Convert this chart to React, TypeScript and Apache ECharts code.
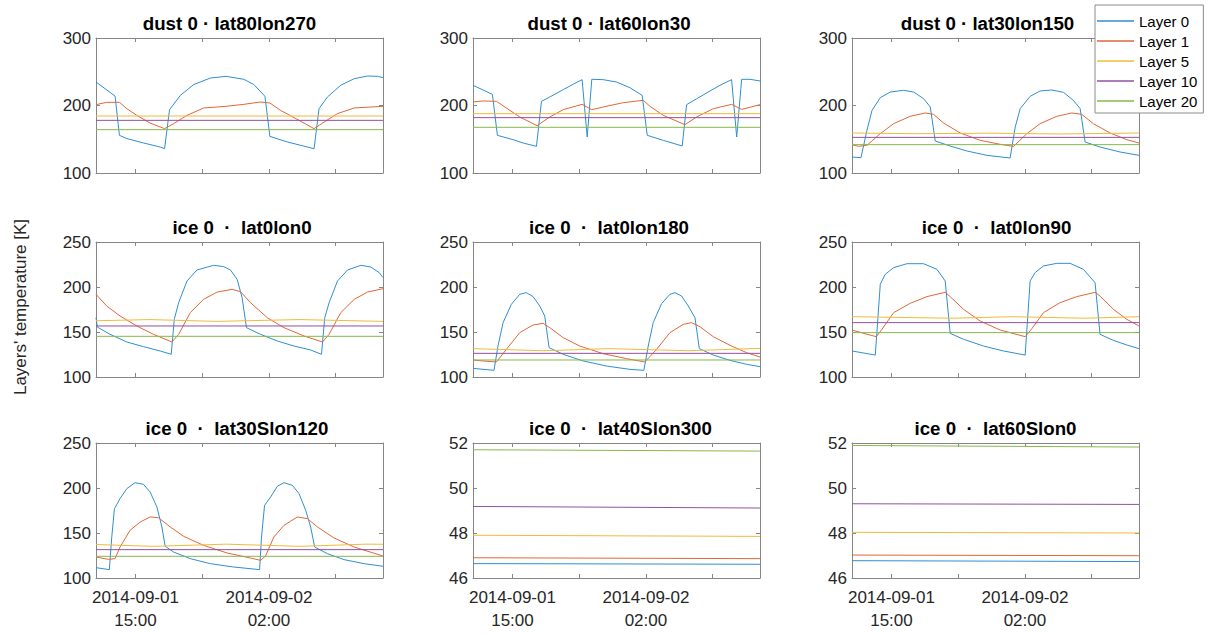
import React, { useEffect, useRef } from "react";
import * as echarts from "echarts";

type P = [number, number][];

const LAYERS = ["Layer 0", "Layer 1", "Layer 5", "Layer 10", "Layer 20"];
const COLORS = ["#2f8fd0", "#e0673a", "#efbb3a", "#9250a2", "#86b84a"];
const X_MIN = 11.75;
const X_MAX = 35.4;
const X_TICKS = [15, 20.5, 26, 31.5];
const X_LABEL_TICKS = [15, 26];
const Y_TITLE = "Layers' temperature [K]";

const TITLES = [
  "dust 0 · lat80lon270",
  "dust 0 · lat60lon30",
  "dust 0 · lat30lon150",
  "ice 0\u00a0 ·\u00a0 lat0lon0",
  "ice 0\u00a0 ·\u00a0 lat0lon180",
  "ice 0\u00a0 ·\u00a0 lat0lon90",
  "ice 0\u00a0 ·\u00a0 lat30Slon120",
  "ice 0\u00a0 ·\u00a0 lat40Slon300",
  "ice 0\u00a0 ·\u00a0 lat60Slon0",
];

// y-axis ranges [min, max, step]
const Y_RANGES: [number, number, number][] = [
  [100, 300, 100], [100, 300, 100], [100, 300, 100],
  [100, 250, 50], [100, 250, 50], [100, 250, 50],
  [100, 250, 50], [46, 52, 2], [46, 52, 2],
];

// ---- dust 0 · lat80lon270
const p1L0: P = [[11.75,234.8],[13.32,214],[13.68,155.8],[14.29,151],[15.66,144.5],[17.04,138.5],[17.4,136],[17.81,193.8],[18.7,215],[19.8,231],[21.18,240.7],[22.47,243.2],[23.93,238.8],[24.76,231],[25.67,213.6],[26.08,154.3],[27.51,146],[28.62,141],[29.72,136],[30.13,195.3],[30.82,212.6],[31.92,230],[33.03,239.8],[34.13,243.7],[34.96,243.2],[35.4,241.3]];
const p1L1: P = [[11.75,201.2],[12.63,204.7],[13.68,204.7],[14.29,195.3],[15.11,185.4],[16.21,174],[17.4,165.7],[18.14,173],[19.25,185.4],[20.62,196.3],[22.47,198.8],[23.93,201.7],[25.31,205.2],[26.08,203.7],[26.96,192.8],[28.07,182],[29.72,165.7],[30.55,175.5],[31.65,188],[33.03,196.3],[35.4,198.8]];
const p1L5: P = [[11.75,184.4],[35.4,184.4]];
const p1L10: P = [[11.75,178],[35.4,178]];
const p1L20: P = [[11.75,164.2],[35.4,164.2]];

// ---- dust 0 · lat60lon30
const p2L0: P = [[11.75,229.9],[13.35,216.5],[13.76,155.8],[15.05,149.4],[15.88,144.4],[16.98,139.5],[17.39,206.2],[18.08,212.6],[19.18,223.5],[20,231.4],[20.74,238.3],[21.16,153.3],[21.54,238.8],[22.48,238.3],[23.58,234.8],[24.68,226.4],[25.69,215],[26.11,155.8],[27.43,148.4],[28.99,140],[29.35,201.2],[30.18,210],[31.28,221.5],[32.1,229.9],[33.06,238.3],[33.48,153.3],[33.89,238.8],[34.58,238.8],[35.4,236.3]];
const p2L1: P = [[11.75,205.2],[12.58,206.7],[13.68,206.2],[14.5,196.3],[15.6,183],[17.03,170.1],[18.08,183],[19.18,193.8],[20.74,201.7],[21.54,193.8],[22.48,197.8],[24.13,204.2],[25.78,207.7],[26.33,198.8],[27.43,185.4],[29.21,171.6],[30.18,183],[31.55,195.3],[33.06,201.7],[33.89,194.3],[35.4,201.2]];
const p2L5: P = [[11.75,187.9],[35.4,187.9]];
const p2L10: P = [[11.75,182],[35.4,182]];
const p2L20: P = [[11.75,167.7],[35.4,167.7]];

// ---- dust 0 · lat30lon150
const p3L0: P = [[11.75,123.7],[12.49,122.7],[12.98,163.2],[13.4,192.8],[14.08,211.6],[14.91,220],[16,222.5],[16.83,220],[17.65,210.1],[18.2,197.8],[18.61,147.4],[19.84,140],[21.22,132.6],[22.86,126.2],[24.78,122.2],[25.2,168.1],[25.61,195.3],[26.43,213.6],[27.25,221.5],[28.21,223],[29.17,219.5],[29.99,207.7],[30.55,195.3],[30.96,145.9],[32.19,138.5],[33.84,131.1],[35.4,126.2]];
const p3L1: P = [[11.75,142],[12.3,139.5],[12.98,141],[14.08,158.3],[15.18,173.1],[16.55,184],[17.79,188.9],[18.47,186.9],[19.3,174],[20.67,159.3],[22.31,148.4],[23.96,142.5],[25.06,139.5],[26.16,158.3],[27.25,173.1],[28.63,184],[29.86,188.9],[30.68,186.9],[31.64,173.1],[33.02,159.3],[34.39,149.4],[35.4,144.4]];
const p3L5: P = [[11.75,159.3],[17,158.2],[23,159],[29,157.8],[35.4,159.3]];
const p3L10: P = [[11.75,152.8],[35.4,152.8]];
const p3L20: P = [[11.75,142],[35.4,142]];

// ---- ice 0 · lat0lon0
const p4L0: P = [[11.75,166],[11.86,155.5],[12.91,147.4],[14.29,138.9],[15.66,133.7],[17.04,128.9],[17.95,125.2],[18.2,164.1],[18.56,182.6],[19.25,206.7],[20.07,218.9],[21.45,224.1],[22.28,222.6],[22.83,218.9],[23.38,208.5],[23.79,188.2],[24.15,154.8],[25.31,147.4],[26.69,140],[28.07,134.4],[29.44,130],[30.33,125.2],[30.6,165.9],[30.96,182.6],[31.65,206.7],[32.48,218.9],[33.58,224.1],[34.4,222.2],[35.09,215.9],[35.4,210.4]];
const p4L1: P = [[11.75,191.9],[12.63,178.9],[13.73,167.8],[15.11,156.7],[16.49,147.4],[18.01,138.9],[18.56,147.4],[19.52,171.5],[20.62,186.3],[21.73,194.4],[22.97,197.4],[23.66,194.8],[24.48,182.6],[25.86,165.9],[27.24,154.8],[28.89,145.6],[30.41,138.9],[30.96,147.4],[31.92,171.5],[33.03,186.3],[34.13,194.4],[35.4,198.1]];
const p4L5: P = [[11.75,162.5],[16.2,163.8],[21.7,161.8],[28.5,163.8],[35.4,161.8]];
const p4L10: P = [[11.75,156.7],[35.4,156.7]];
const p4L20: P = [[11.75,145.2],[35.4,145.2]];

// ---- ice 0 · lat0lon180
const p5L0: P = [[11.75,109.6],[13.48,107.4],[13.81,134.4],[14.23,160.4],[14.91,180.7],[15.6,191.9],[16.15,193.7],[16.7,189.3],[17.25,178.9],[17.66,167.8],[18.02,132.6],[19.18,125.2],[20.83,117.8],[22.75,112.2],[24.68,108.5],[25.83,107.4],[26.19,134.4],[26.6,160.4],[27.29,181.5],[27.98,191.9],[28.39,193.7],[28.94,190],[29.49,178.9],[30.04,165.9],[30.4,131.5],[31.55,124.4],[32.93,118.5],[34.3,114.1],[35.4,111.5]];
const p5L1: P = [[11.75,118.9],[12.58,117.8],[13.68,116.7],[14.5,130.7],[15.6,149.3],[16.7,157.8],[17.53,159.6],[18.08,154.8],[19.18,143.7],[20.55,134.4],[22.48,125.9],[24.4,120.4],[25.91,116.7],[26.88,130.7],[27.98,149.3],[29.08,158.5],[29.76,160.4],[30.45,155.9],[31.55,144.8],[32.93,135.2],[34.3,127],[35.4,122.2]];
const p5L5: P = [[11.75,131.5],[17.5,129.2],[23,131.5],[29.5,129.2],[35.4,131.8]];
const p5L10: P = [[11.75,126.3],[35.4,126.3]];
const p5L20: P = [[11.75,118.9],[35.4,118.9]];

// ---- ice 0 · lat0lon90
const p6L0: P = [[11.75,128.9],[13.67,124.4],[14.08,203],[14.49,214.1],[15.18,221.5],[16.28,225.9],[17.65,225.9],[18.75,219.6],[19.43,206.7],[19.84,148.5],[20.94,141.9],[22.59,134.4],[24.24,128.9],[26.02,124.4],[26.43,206.7],[26.84,216],[27.53,223.4],[28.63,226.3],[29.72,226.3],[30.82,219.6],[31.78,204.8],[32.19,147.4],[33.29,140.7],[34.39,135.6],[35.4,131.5]];
const p6L1: P = [[11.75,152.2],[12.71,148.5],[13.75,144.8],[14.22,153],[15.18,171.5],[16.55,181.9],[17.92,189.3],[19.43,194.1],[19.84,189.3],[20.94,175.2],[22.31,162.2],[23.96,152.2],[26.02,144.8],[26.57,153.7],[27.53,171.5],[28.9,182.6],[30.27,189.3],[31.78,194.1],[32.19,190],[33.29,175.2],[34.39,164.1],[35.4,156.7]];
const p6L5: P = [[11.75,167],[20,165.3],[25,167],[31,165.3],[35.4,167]];
const p6L10: P = [[11.75,160.4],[35.4,160.4]];
const p6L20: P = [[11.75,149.3],[35.4,149.3]];

// ---- ice 0 · lat30Slon120
const p7L0: P = [[11.75,111.5],[12.85,109.3],[13.05,145.6],[13.27,177],[13.73,188.2],[14.29,199.3],[14.97,205.9],[15.66,204.1],[16.21,195.6],[16.77,178.9],[17.18,156.7],[17.45,135.2],[18.14,128.9],[19.52,121.5],[21.18,115.9],[23.1,112.2],[25.23,109.3],[25.39,145.6],[25.64,180.7],[26.14,190],[26.69,201.9],[27.24,205.9],[27.93,203],[28.48,193.7],[29.03,175.2],[29.44,156.7],[29.77,134.4],[30.82,127],[32.2,120.4],[33.85,115.9],[35.4,113]];
const p7L1: P = [[11.75,123.3],[12.77,120.7],[13.32,121.5],[13.73,134.4],[14.56,153],[15.39,162.2],[16.21,167.8],[16.9,167],[17.87,156.7],[18.97,146.3],[20.62,136.3],[22.55,127.8],[24.48,122.2],[25.31,119.6],[25.72,124.4],[26.41,145.6],[27.24,158.5],[28.34,167.8],[29.17,166],[30,156.7],[31.37,144.4],[33.03,134.4],[35.4,124.4]];
const p7L5: P = [[11.75,137.2],[16.5,135.2],[22.5,137.6],[28.5,135.2],[34,137.6],[35.4,137.5]];
const p7L10: P = [[11.75,131.5],[35.4,131.5]];
const p7L20: P = [[11.75,124.1],[35.4,124.1]];

// ---- ice 0 · lat40Slon300
const p8L0: P = [[11.75,46.64],[35.4,46.61]];
const p8L1: P = [[11.75,46.9],[35.4,46.86]];
const p8L5: P = [[11.75,47.9],[35.4,47.85]];
const p8L10: P = [[11.75,49.18],[35.4,49.11]];
const p8L20: P = [[11.75,51.7],[35.4,51.64]];

// ---- ice 0 · lat60Slon0
const p9L0: P = [[11.75,46.77],[35.4,46.73]];
const p9L1: P = [[11.75,47.02],[35.4,46.99]];
const p9L5: P = [[11.75,48.03],[35.4,48.0]];
const p9L10: P = [[11.75,49.3],[35.4,49.27]];
const p9L20: P = [[11.75,51.89],[35.4,51.82]];

const PANEL_SERIES: P[][] = [
  [p1L0, p1L1, p1L5, p1L10, p1L20],
  [p2L0, p2L1, p2L5, p2L10, p2L20],
  [p3L0, p3L1, p3L5, p3L10, p3L20],
  [p4L0, p4L1, p4L5, p4L10, p4L20],
  [p5L0, p5L1, p5L5, p5L10, p5L20],
  [p6L0, p6L1, p6L5, p6L10, p6L20],
  [p7L0, p7L1, p7L5, p7L10, p7L20],
  [p8L0, p8L1, p8L5, p8L10, p8L20],
  [p9L0, p9L1, p9L5, p9L10, p9L20],
];

// layout
const COL_LEFT = [96, 473, 852];
const ROW_TOP = [38, 242, 443];
const PLOT_W = 287;
const PLOT_H = 135;
const TITLE_X = [229.5, 609, 987.5, 242, 609, 996.5, 237, 620.5, 995.5];
const TITLE_Y = [23, 23, 23, 227.5, 227.5, 227.5, 428, 428, 428];

const FONT = "'Liberation Sans', Arial, Helvetica, sans-serif";
const AXIS_COLOR = "#868686";
const LABEL_COLOR = "#262626";

function fmtTime(v: number): string {
  const day = 1 + Math.floor(v / 24);
  const hh = Math.round(v % 24);
  return `2014-09-${String(day).padStart(2, "0")}\n${String(hh).padStart(2, "0")}:00`;
}

export default function App() {
  const ref = useRef<HTMLDivElement>(null);

  useEffect(() => {
    if (!ref.current) return;
    const chart = echarts.init(ref.current, undefined, { renderer: "svg" });

    const grid: any[] = [];
    const xAxis: any[] = [];
    const yAxis: any[] = [];
    const series: any[] = [];
    const graphic: any[] = [];

    for (let i = 0; i < 9; i++) {
      const r = Math.floor(i / 3);
      const c = i % 3;
      grid.push({
        left: COL_LEFT[c],
        top: ROW_TOP[r],
        width: PLOT_W,
        height: PLOT_H,
        containLabel: false,
      });
      const tick = {
        show: true,
        inside: true,
        length: 4,
        lineStyle: { color: AXIS_COLOR, width: 1 },
      };
      const axLine = { show: true, onZero: false, lineStyle: { color: AXIS_COLOR, width: 1 } };
      xAxis.push({
        type: "value",
        gridIndex: i,
        position: "bottom",
        min: X_MIN,
        max: X_MAX,
        axisLine: axLine,
        axisTick: { ...tick, customValues: X_TICKS },
        axisLabel: {
          show: r === 2,
          customValues: X_LABEL_TICKS,
          formatter: (v: number) => fmtTime(v),
          margin: 8,
          fontSize: 17,
          lineHeight: 23,
          color: LABEL_COLOR,
          fontFamily: FONT,
        },
        splitLine: { show: false },
      });
      xAxis.push({
        type: "value",
        gridIndex: i,
        position: "top",
        min: X_MIN,
        max: X_MAX,
        axisLine: axLine,
        axisTick: { ...tick, customValues: X_TICKS },
        axisLabel: { show: false },
        splitLine: { show: false },
      });
      const [ymin, ymax, ystep] = Y_RANGES[i];
      yAxis.push({
        type: "value",
        gridIndex: i,
        position: "left",
        min: ymin,
        max: ymax,
        interval: ystep,
        axisLine: axLine,
        axisTick: tick,
        axisLabel: {
          show: true,
          margin: 5,
          fontSize: 17,
          color: LABEL_COLOR,
          fontFamily: FONT,
        },
        splitLine: { show: false },
      });
      yAxis.push({
        type: "value",
        gridIndex: i,
        position: "right",
        min: ymin,
        max: ymax,
        interval: ystep,
        axisLine: axLine,
        axisTick: tick,
        axisLabel: { show: false },
        splitLine: { show: false },
      });

      PANEL_SERIES[i].forEach((data, k) => {
        series.push({
          type: "line",
          name: LAYERS[k],
          xAxisIndex: 2 * i,
          yAxisIndex: 2 * i,
          data,
          symbol: "none",
          showSymbol: false,
          silent: true,
          itemStyle: { color: COLORS[k] },
          lineStyle: { color: COLORS[k], width: 1 },
        });
      });

      graphic.push({
        type: "text",
        x: TITLE_X[i],
        y: TITLE_Y[i],
        style: {
          text: TITLES[i],
          align: "center",
          verticalAlign: "middle",
          fontSize: 18.7,
          fontWeight: "bold",
          fontFamily: FONT,
          fill: "#000",
        },
      });
    }

    graphic.push({
      type: "text",
      x: 20,
      y: 307,
      rotation: Math.PI / 2,
      style: {
        text: Y_TITLE,
        align: "center",
        verticalAlign: "middle",
        fontSize: 17,
        fontFamily: FONT,
        fill: LABEL_COLOR,
      },
    });

    chart.setOption({
      animation: false,
      backgroundColor: "#ffffff",
      grid,
      xAxis,
      yAxis,
      series,
      graphic,
      legend: {
        data: LAYERS,
        orient: "vertical",
        left: 1095,
        top: 5,
        icon: "rect",
        itemWidth: 37,
        itemHeight: 1.5,
        itemGap: 4,
        padding: [8, 6, 4, 2],
        borderColor: "#8c8c8c",
        borderWidth: 1,
        backgroundColor: "#ffffff",
        selectedMode: false,
        z: 10,
        textStyle: { fontSize: 15, color: "#000", lineHeight: 16, fontFamily: FONT },
      },
    });

    return () => chart.dispose();
  }, []);

  return (
    <div
      ref={ref}
      style={{ position: "fixed", left: 0, top: 0, width: 1208, height: 635, background: "#fff" }}
    />
  );
}
